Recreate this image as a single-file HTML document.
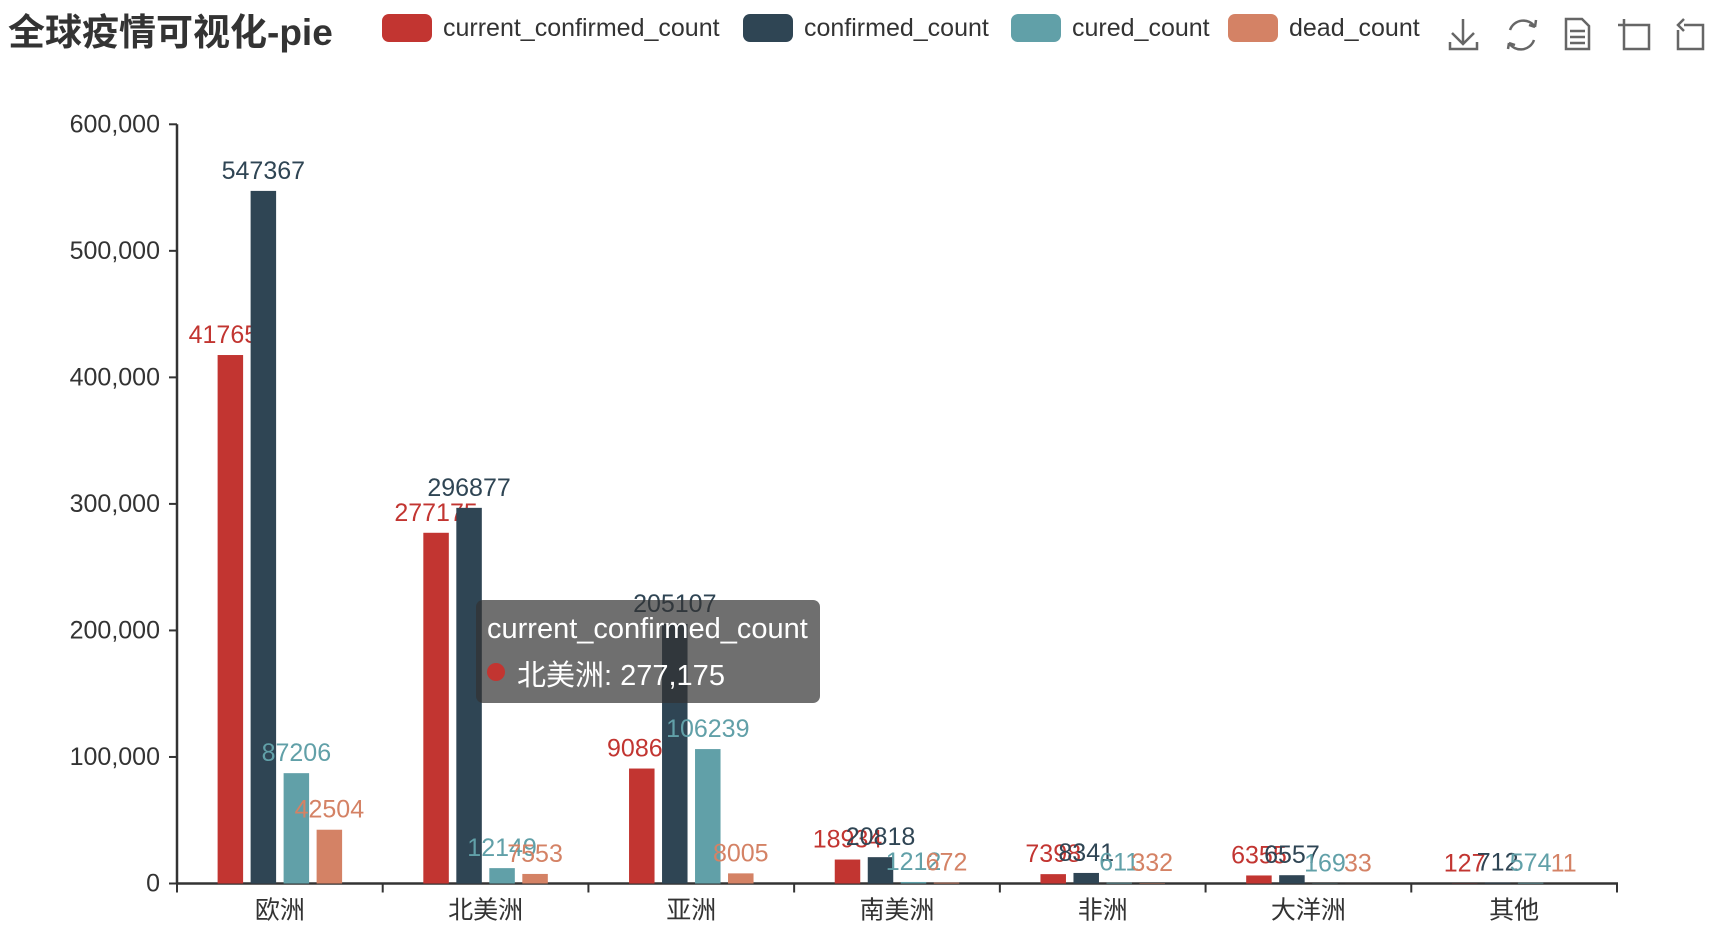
<!DOCTYPE html>
<html><head><meta charset="utf-8">
<style>
html,body{margin:0;padding:0;background:#fff;}
body{width:1714px;height:942px;position:relative;overflow:hidden;font-family:"Liberation Sans","Noto Sans CJK SC",sans-serif;}
.title{position:absolute;left:8px;top:10px;font-size:37px;font-weight:bold;color:#333;line-height:46px;white-space:nowrap;}
.leg{position:absolute;top:14px;height:28px;font-size:25px;color:#333;line-height:28px;white-space:nowrap;}
.leg .sw{position:absolute;left:0;top:0;width:50px;height:28px;border-radius:7px;}
.leg .tx{position:absolute;left:61px;top:0;}
.tip{position:absolute;left:476px;top:600px;width:344px;height:103px;background:rgba(50,50,50,0.7);border-radius:7px;color:#fff;font-size:29px;}
svg{position:absolute;left:0;top:0;}
</style></head><body>
<div class="title">全球疫情可视化-pie</div>
<div class="leg" style="left:382px"><div class="sw" style="background:#c23531"></div><div class="tx">current_confirmed_count</div></div>
<div class="leg" style="left:743px"><div class="sw" style="background:#2f4554"></div><div class="tx">confirmed_count</div></div>
<div class="leg" style="left:1011px"><div class="sw" style="background:#61a0a8"></div><div class="tx">cured_count</div></div>
<div class="leg" style="left:1228px"><div class="sw" style="background:#d48265"></div><div class="tx">dead_count</div></div>

<svg width="1714" height="942" id="chart">
 <g stroke="#666" stroke-width="2.5" fill="none">
  <g><path d="M1463 19 V44 M1452 33 L1463 44 L1474 33 M1450 42 V49 H1477 V42"/></g>
  <g><path d="M1510 30 A14 14 0 0 1 1535 27 M1535 27 L1536 20 M1535 27 L1529 25 M1534 40 A14 14 0 0 1 1509 43 M1509 43 L1508 49 M1509 43 L1515 45"/></g>
  <g><path d="M1566 19 H1582 L1589 26 V49 H1566 Z M1570 31 H1585 M1570 37 H1585 M1570 43 H1585"/></g>
  <g><path d="M1624 19 V49 H1649 V25 H1618"/></g>
  <g><path d="M1684 25 H1703 V49 H1678 V30 M1684 19 L1678 25 L1684 31"/></g>
 </g>
 <g id="axes"></g>
 <g id="plot"></g>
</svg>

<div class="tip">
 <div style="position:absolute;left:11px;top:13px;white-space:nowrap">current_confirmed_count</div>
 <div style="position:absolute;left:11px;top:63px;width:18px;height:18px;border-radius:9px;background:#c23531"></div>
 <div style="position:absolute;left:41px;top:55px;white-space:nowrap;top:52px">北美洲: 277,175</div>
</div>

<script>
const categories = ["欧洲","北美洲","亚洲","南美洲","非洲","大洋洲","其他"];
const currentConfirmed = [417657,277175,90863,18934,7398,6355,127];
const confirmed = [547367,296877,205107,20818,8341,6557,712];
const cured = [87206,12149,106239,1212,611,169,574];
const dead = [42504,7553,8005,672,332,33,11];
const yTicks = [0,100000,200000,300000,400000,500000,600000];
const seriesNames = ["current_confirmed_count","confirmed_count","cured_count","dead_count"];

const NS="http://www.w3.org/2000/svg";
const X0=177,X1=1617,Y0=883.5,YTOP=124.3,YMAX=600000;
const colors=["#c23531","#2f4554","#61a0a8","#d48265"];
const series=[currentConfirmed,confirmed,cured,dead];
function y(v){return Y0-(v/YMAX)*(Y0-YTOP);}
const band=(X1-X0)/categories.length;
function xc(i){return X0+band*(i+0.5);}
function mk(tag,attrs,parent){const e=document.createElementNS(NS,tag);for(const k in attrs)e.setAttribute(k,attrs[k]);parent.appendChild(e);return e;}
const axes=document.getElementById('axes'),plot=document.getElementById('plot');
yTicks.forEach(t=>{
  const tk=mk('line',{x1:X0-8,x2:X0,y1:y(t),y2:y(t),stroke:'#333','stroke-width':2},axes);
  
  
  const tx=mk('text',{x:X0-17,y:y(t)+8,'text-anchor':'end','font-size':25,fill:'#333'},axes);
  tx.textContent=t.toLocaleString('en-US');
  
  
});
const ya=mk('line',{x1:X0,x2:X0,y1:YTOP,y2:Y0,stroke:'#333','stroke-width':2.5},axes);


const xa=mk('line',{x1:X0-1,x2:X1+1,y1:Y0,y2:Y0,stroke:'#333','stroke-width':2.5},axes);


for(let i=0;i<=categories.length;i++){
  const tk=mk('line',{x1:X0+band*i,x2:X0+band*i,y1:Y0,y2:Y0+9,stroke:'#333','stroke-width':2},axes);
  
  
}
categories.forEach((c,i)=>{
  const tx=mk('text',{x:xc(i),y:Y0+35,'text-anchor':'middle','font-size':25,fill:'#333'},axes);
  tx.textContent=c;
  
  
});
const BW=25.5,STEP=33;
series.forEach((s,si)=>{
  s.forEach((v,i)=>{
    const cx=xc(i)+(si-1.5)*STEP;
    const t=mk('text',{x:cx,y:y(v)-12,'text-anchor':'middle','font-size':25,fill:colors[si]},plot);
    t.textContent=String(v);
    
    
  });
  s.forEach((v,i)=>{
    const cx=xc(i)+(si-1.5)*STEP;
    const r=mk('rect',{x:cx-BW/2,y:y(v),width:BW,height:Y0-y(v),fill:colors[si]},plot);
    
    
  });
});
</script>
</body></html>
